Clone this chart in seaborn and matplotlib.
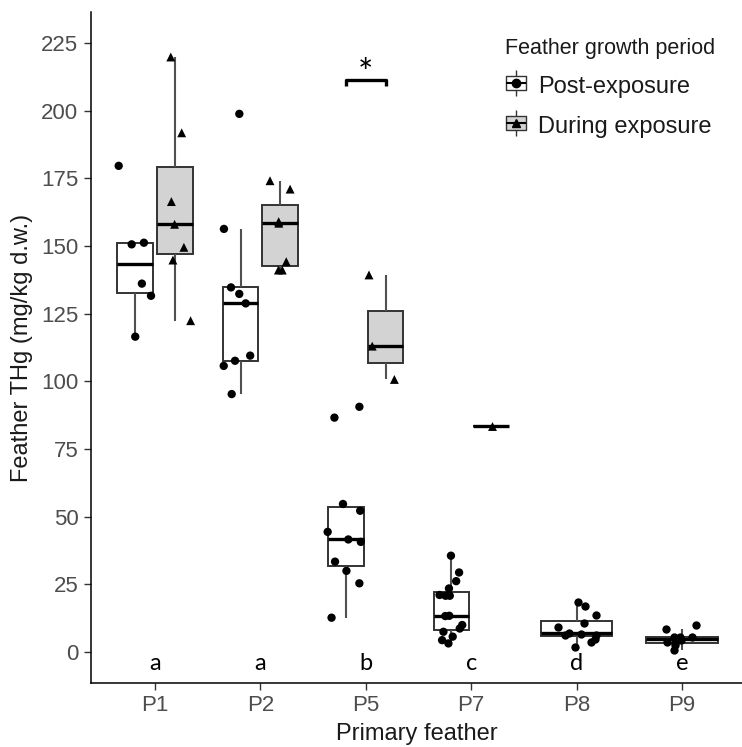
import numpy as np
import pandas as pd
import seaborn as sns
import matplotlib.pyplot as plt
from matplotlib.lines import Line2D
from matplotlib.legend_handler import HandlerTuple

# ---- data: feather THg (mg/kg d.w.) per primary feather and growth period ----
feathers = ["P1", "P2", "P5", "P7", "P8", "P9"]
periods = ["Post-exposure", "During exposure"]
letters = ["a", "a", "b", "c", "d", "e"]

p1_post = [179.6, 151.2, 150.6, 136.1, 131.6, 116.5]
p1_during = [219.8, 191.8, 166.4, 158.0, 149.5, 144.8, 122.4]
p2_post = [198.8, 156.3, 134.7, 132.3, 128.8, 109.5, 107.6, 105.7, 95.3]
p2_during = [174.1, 171.0, 159.0, 158.4, 144.2, 141.1, 141.1]
p5_post = [90.6, 86.6, 54.7, 52.2, 44.4, 41.6, 40.7, 33.4, 30.0, 25.4, 12.7]
p5_during = [139.3, 113.0, 100.7]
p7_post = [35.6, 29.4, 26.2, 23.5, 21.1, 20.8, 20.8, 13.4, 13.3, 10.0, 8.7,
           7.5, 5.7, 4.4, 3.2]
p7_during = [83.5]
p8_post = [18.4, 17.0, 13.7, 10.6, 9.3, 7.0, 6.8, 6.3, 6.3, 4.7, 3.8, 2.0]
p9_post = [10.0, 8.4, 5.7, 5.7, 5.4, 4.6, 3.8, 3.2, 2.6, 0.7]


def frame(feather, period, values):
    return pd.DataFrame({"feather": feather, "period": period, "thg": values})


paired = pd.concat([
    frame("P1", periods[0], p1_post), frame("P1", periods[1], p1_during),
    frame("P2", periods[0], p2_post), frame("P2", periods[1], p2_during),
    frame("P5", periods[0], p5_post), frame("P5", periods[1], p5_during),
    frame("P7", periods[0], p7_post), frame("P7", periods[1], p7_during),
], ignore_index=True)
single = pd.concat([
    frame("P8", periods[0], p8_post), frame("P9", periods[0], p9_post),
], ignore_index=True)

# ---- styling ----
sns.set_theme(style="ticks")
plt.rcParams["font.family"] = ["Liberation Sans", "DejaVu Sans"]

box_fill = {periods[0]: "white", periods[1]: "#D3D3D3"}
black = {p: "black" for p in periods}
line_col = "#333333"
box_kw = dict(showfliers=False, showcaps=False, linecolor=line_col,
              linewidth=1.4, saturation=1,
              medianprops=dict(color="black", linewidth=2.4),
              whiskerprops=dict(color="#505050", linewidth=1.5))

fig = plt.figure(figsize=(7.42, 7.47), dpi=100)
ax = fig.add_axes([0.1226, 0.0863, 0.8774, 0.897])

# boxes for feathers sampled in both periods (dodged), then single-period ones
sns.boxplot(data=paired, x="feather", y="thg", hue="period", order=feathers,
            hue_order=periods, palette=box_fill, width=0.75, gap=0.1,
            dodge=True, legend=False, ax=ax, **box_kw)
sns.boxplot(data=single, x="feather", y="thg", order=feathers, color="white",
            width=0.68, ax=ax, **box_kw)

# individual measurements
np.random.seed(7)
sns.stripplot(data=paired[paired.period == periods[0]], x="feather", y="thg",
              hue="period", order=feathers, hue_order=periods, palette=black,
              dodge=True, jitter=0.34, marker="o", size=6, linewidth=0,
              legend=False, ax=ax, zorder=5)
sns.stripplot(data=paired[paired.period == periods[1]], x="feather", y="thg",
              hue="period", order=feathers, hue_order=periods, palette=black,
              dodge=True, jitter=0.34, marker="^", size=6.4, linewidth=0,
              legend=False, ax=ax, zorder=5)
sns.stripplot(data=single, x="feather", y="thg", order=feathers,
              color="black", jitter=0.2, marker="o", size=6, linewidth=0,
              ax=ax, zorder=5)

# group letters under each feather
for i, lab in enumerate(letters):
    ax.text(i, -4.2, lab, ha="center", va="center", fontsize=17,
            color="black", family=["Lato", "DejaVu Sans"])

# significance bracket between P5 periods
i5 = feathers.index("P5")
ax.plot([i5 - 0.19, i5 - 0.19, i5 + 0.19, i5 + 0.19],
        [209.2, 211.3, 211.3, 209.2], color="black", lw=2.4,
        solid_capstyle="butt")
ax.text(i5, 213.5, "*", ha="center", va="center", fontsize=26, color="black",
        family=["Lato", "DejaVu Sans"])

# axes
ax.set_xlim(-0.607, 5.569)
ax.set_ylim(-11.25, 236.25)
ax.set_yticks(np.arange(0, 226, 25))
sns.despine(ax=ax)
for s in ("left", "bottom"):
    ax.spines[s].set_color("black")
    ax.spines[s].set_linewidth(1.1)
ax.tick_params(axis="both", colors="#4D4D4D", labelsize=16, length=5,
               width=1, direction="out", pad=4)
ax.tick_params(axis="both", color="#333333")
ax.set_xlabel("Primary feather", fontsize=17, color="#1A1A1A", labelpad=5)
ax.set_ylabel("Feather THg (mg/kg d.w.)", fontsize=17, color="#1A1A1A",
              labelpad=6)

# legend with box glyphs
rect = [(-1.0, -0.7), (1.0, -0.7), (1.0, 0.7), (-1.0, 0.7), (-1.0, -0.7)]


def glyph(fill, marker):
    return (Line2D([], [], marker="|", markersize=19, mew=1.0, color=line_col,
                   linestyle="none"),
            Line2D([], [], marker=rect, markersize=15, mew=1.0,
                   markerfacecolor=fill, markeredgecolor=line_col,
                   linestyle="none"),
            Line2D([], [], marker="_", markersize=14.5, mew=1.5,
                   color="black", linestyle="none"),
            Line2D([], [], marker=marker, markersize=6, color="black",
                   linestyle="none"))


handles = [glyph("white", "o"), glyph("#D3D3D3", "^")]
leg = ax.legend(handles, periods, title="Feather growth period",
                handler_map={tuple: HandlerTuple(ndivide=1, pad=0)},
                loc="upper left", bbox_to_anchor=(0.636, 0.962),
                frameon=False, fontsize=17, title_fontsize=15.5,
                handlelength=0.9, handleheight=1.15, labelspacing=0.62,
                handletextpad=0.5, borderpad=0, borderaxespad=0)
leg._legend_box.align = "left"
for t in leg.get_texts():
    t.set_color("#1A1A1A")
leg.get_title().set_color("#1A1A1A")

fig.savefig("out.png", dpi=100)
